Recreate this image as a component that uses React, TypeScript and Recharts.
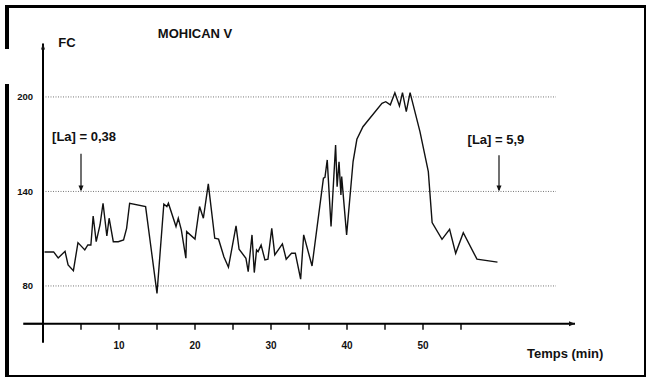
import React from 'react';
import { LineChart, Line, XAxis, YAxis, ReferenceLine, ReferenceDot } from 'recharts';

// Time (min)
const times = [0.2,1.4,2.0,2.9,3.3,4.0,4.6,5.5,5.9,6.3,6.6,7.0,7.5,7.9,8.4,8.7,9.25,9.9,10.6,11.0,11.4,13.5,15.0,15.9,16.3,16.5,17.5,17.8,18.2,18.8,18.9,20.0,20.6,21.1,21.75,22.6,23.1,23.8,24.4,25.4,25.8,26.7,27.0,27.5,27.8,28.1,28.3,28.7,29.2,29.6,30.1,30.5,31.5,32.0,32.7,33.2,33.9,34.3,35.4,36.9,37.1,37.4,37.9,38.5,38.7,38.95,39.2,39.3,39.95,40.8,41.3,42.1,44.6,45.1,45.7,46.3,46.9,47.3,47.8,48.3,49.6,50.7,51.2,52.5,53.5,54.3,55.3,57.1,59.8];
// Heart rate (FC)
const fc = [101.6,101.6,97.8,102,93.3,89.7,107.5,102.9,106,106,124.4,108.1,118.7,132.5,111.7,123,108.1,108.1,109.2,116.6,132.5,130.4,75.3,132,130.4,132.5,117.7,123,115.6,97.6,114.5,109.8,130.4,123,144.8,110.3,109.7,98.6,91.9,118.1,103.3,97.6,89.1,112.4,88.5,102.9,101.8,106,96.5,97,116.6,99.7,106.7,97,100.8,100.8,84.3,112.4,92.7,148.4,149,160,117.7,169.5,143,158.9,137.8,149.4,112.4,159,173.1,181.1,196,197,195,202.7,194.3,202.7,190.7,202.7,178,152.6,120.2,109.6,116,100.7,113.8,97,95.1];

const xTicks = [5,10,15,20,25,30,35,40,45,50,55];
const xTickLabels = ['', '10', '', '20', '', '30', '', '40', '', '50', ''];
const yTicks = [80,140,200];
const gridValues = [80,140,200];

const data = times.map((t, i) => ({ t, fc: fc[i] }));

const FONT = 'Liberation Sans, Arial, Helvetica, sans-serif';

const TextShape = (text: string, size: number) => (p: any) => (
  <text x={p.cx} y={p.cy} textAnchor="middle" dominantBaseline="central"
    fontFamily={FONT} fontWeight="bold" fontSize={size} fill="#111">{text}</text>
);

const ArrowDown = (p: any) => (
  <path d={`M${p.cx - 2.5},${p.cy - 6} L${p.cx + 2.5},${p.cy - 6} L${p.cx},${p.cy} Z`} fill="#111" />
);
const ArrowUp = (p: any) => (
  <path d={`M${p.cx - 2},${p.cy + 6} L${p.cx + 2},${p.cy + 6} L${p.cx},${p.cy} Z`} fill="#111" />
);
const ArrowRight = (p: any) => (
  <path d={`M${p.cx - 6},${p.cy - 2.5} L${p.cx - 6},${p.cy + 2.5} L${p.cx},${p.cy} Z`} fill="#111" />
);

export default function App() {
  const fmt = (v: number) => {
    const i = xTicks.indexOf(v);
    return i >= 0 ? xTickLabels[i] : '';
  };
  return (
    <div style={{ position: 'absolute', left: 0, top: 0, width: 647, height: 378, background: '#fff', overflow: 'hidden' }}>
      {/* frame */}
      <div style={{ position: 'absolute', left: 5, top: 5, width: 4, height: 44, background: '#000' }} />
      <div style={{ position: 'absolute', left: 5, top: 84, width: 4, height: 293, background: '#000' }} />
      <div style={{ position: 'absolute', left: 5, top: 5, width: 641, height: 3, background: '#000' }} />
      <div style={{ position: 'absolute', left: 644, top: 5, width: 2, height: 372, background: '#000' }} />
      <div style={{ position: 'absolute', left: 5, top: 375, width: 641, height: 2, background: '#000' }} />
      <LineChart width={647} height={378} data={data}
        margin={{ top: 43.4, right: 72, bottom: 24.25, left: 0 }}>
        <XAxis dataKey="t" type="number" domain={[0, 70]} ticks={xTicks} tickFormatter={fmt}
          axisLine={{ stroke: '#000', strokeWidth: 2.2 }} tickLine={{ stroke: '#000', strokeWidth: 1.4 }}
          tickSize={6} tickMargin={12} height={30} interval={0}
          tick={{ fontFamily: FONT, fontWeight: 'bold', fontSize: 10, fill: '#111' }} />
        <YAxis type="number" domain={[56, 234]} ticks={yTicks} width={43}
          axisLine={{ stroke: '#000', strokeWidth: 2 }} tickLine={false} tickSize={0} tickMargin={10}
          tick={{ fontFamily: FONT, fontWeight: 'bold', fontSize: 9.5, fill: '#111' }} />
        {gridValues.map(v => (
          <ReferenceLine key={v} segment={[{ x: 0, y: v }, { x: 67.5, y: v }]}
            stroke="#777" strokeWidth={1} strokeDasharray="1 1.5" ifOverflow="visible" />
        ))}
        {/* axis extensions */}
        <ReferenceLine segment={[{ x: -2.6, y: 56 }, { x: 0, y: 56 }]} stroke="#000" strokeWidth={2.2} ifOverflow="visible" />
        <ReferenceLine segment={[{ x: 0, y: 56 }, { x: 0, y: 44 }]} stroke="#000" strokeWidth={2} ifOverflow="visible" />
        <ReferenceDot x={70} y={56} ifOverflow="visible" shape={ArrowRight} />
        <ReferenceDot x={0} y={234} ifOverflow="visible" shape={ArrowUp} />
        {/* lactate arrows */}
        <ReferenceLine segment={[{ x: 5, y: 164 }, { x: 5, y: 141 }]} stroke="#111" strokeWidth={1.2} ifOverflow="visible" />
        <ReferenceDot x={5} y={140} ifOverflow="visible" shape={ArrowDown} />
        <ReferenceLine segment={[{ x: 60, y: 163 }, { x: 60, y: 141 }]} stroke="#111" strokeWidth={1.2} ifOverflow="visible" />
        <ReferenceDot x={60} y={140} ifOverflow="visible" shape={ArrowDown} />
        {/* texts */}
        <ReferenceDot x={20} y={240.3} ifOverflow="visible" shape={TextShape('MOHICAN V', 13)} />
        <ReferenceDot x={3.15} y={234.3} ifOverflow="visible" shape={TextShape('FC', 13)} />
        <ReferenceDot x={5.4} y={174.6} ifOverflow="visible" shape={TextShape('[La] = 0,38', 13)} />
        <ReferenceDot x={59.6} y={172.7} ifOverflow="visible" shape={TextShape('[La] = 5,9', 13)} />
        <ReferenceDot x={68.7} y={36.9} ifOverflow="visible" shape={TextShape('Temps (min)', 13)} />
        <Line dataKey="fc" type="linear" stroke="#111" strokeWidth={1.4} dot={false} isAnimationActive={false} />
      </LineChart>
    </div>
  );
}
